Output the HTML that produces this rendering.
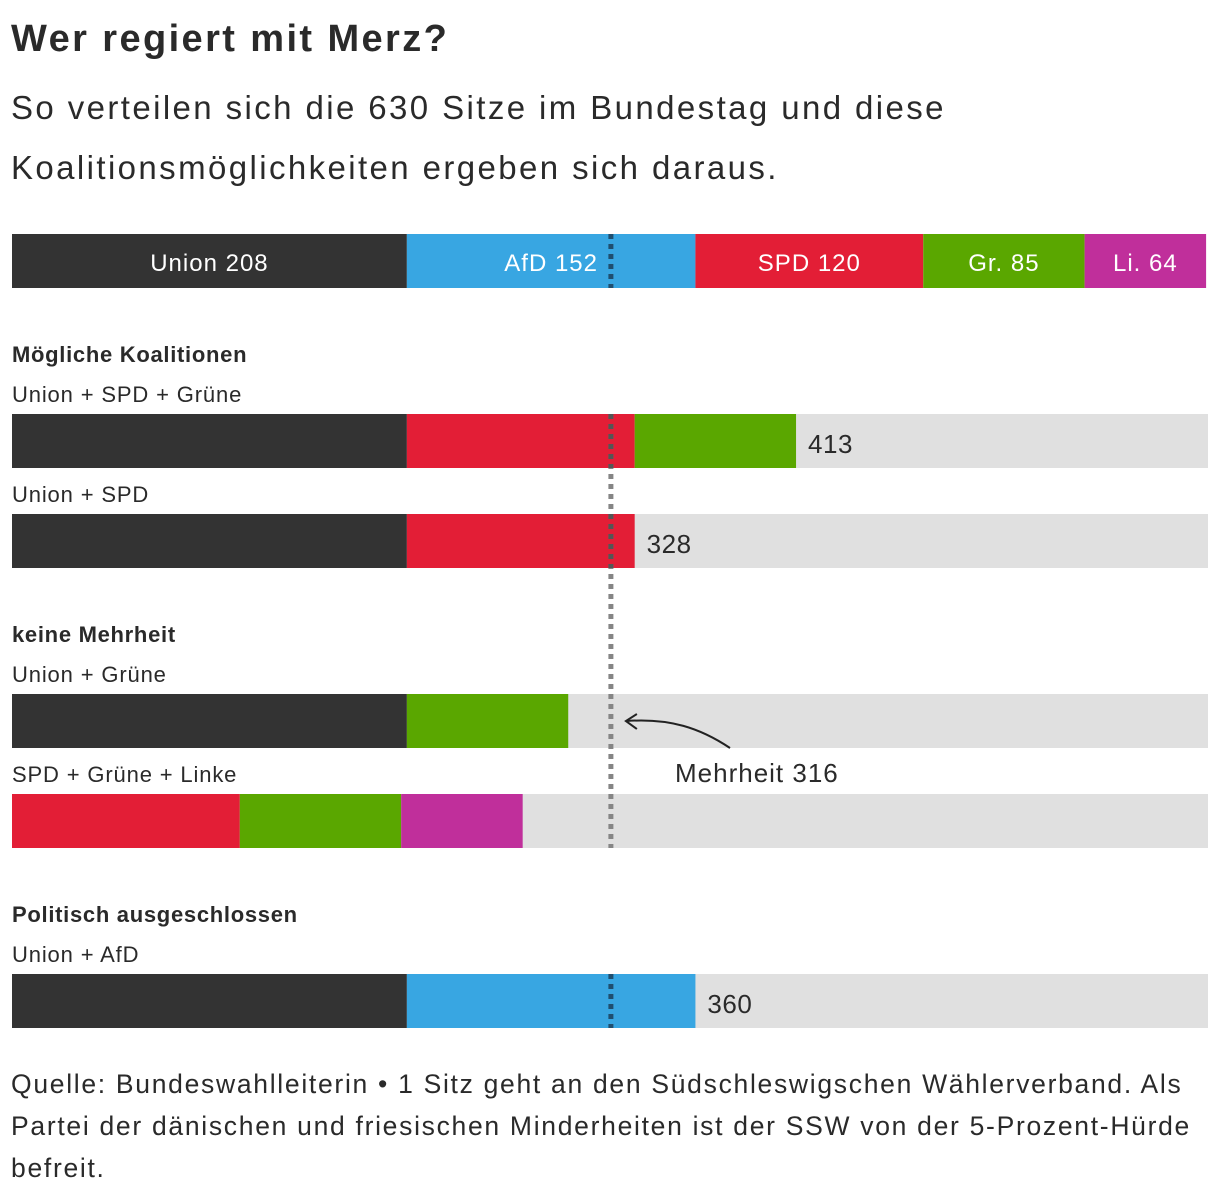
<!DOCTYPE html>
<html><head><meta charset="utf-8">
<style>
body{margin:0;background:#fff;font-family:"Liberation Sans",sans-serif;color:#222;}
#wrap{position:relative;width:1220px;height:1198px;overflow:hidden;}
h1{position:absolute;left:11px;top:18px;margin:0;font-size:38px;font-weight:bold;color:#2a2a2a;letter-spacing:2.4px;}
.sub{position:absolute;left:11px;top:78px;margin:0;font-size:33px;line-height:60px;color:#2a2a2a;letter-spacing:2.4px;white-space:nowrap;}
.foot{position:absolute;left:11px;top:1063px;margin:0;font-size:26.5px;line-height:42px;color:#2a2a2a;letter-spacing:1.7px;white-space:nowrap;}
</style></head><body>
<div id="wrap">
<h1>Wer regiert mit Merz?</h1>
<p class="sub">So verteilen sich die 630 Sitze im Bundestag und diese<br>Koalitionsmöglichkeiten ergeben sich daraus.</p>
<svg id="chart" width="1220" height="1198" style="position:absolute;left:0;top:0"></svg>
<p class="foot">Quelle: Bundeswahlleiterin • 1 Sitz geht an den Südschleswigschen Wählerverband. Als<br>Partei der dänischen und friesischen Minderheiten ist der SSW von der 5-Prozent-Hürde<br>befreit.</p>
</div>
<script>
const parties=["Union","AfD","SPD","Grüne","Linke"];
const partyLabels=["Union 208","AfD 152","SPD 120","Gr. 85","Li. 64"];
const seats=[208,152,120,85,64];
const colors=["#333333","#38a6e2","#e31e36","#5aa700","#c02f9b"];
const totalSeats=630;
const majority=316;
const coalitionNames=["Union + SPD + Grüne","Union + SPD","Union + Grüne","SPD + Grüne + Linke","Union + AfD"];
const coalitionMembers=[[0,2,3],[0,2],[0,3],[2,3,4],[0,1]];
const coalitionShowTotal=[true,true,false,false,true];
const coalitionTop=[414,514,694,794,974];
const sectionTitles=["Mögliche Koalitionen","keine Mehrheit","Politisch ausgeschlossen"];
const sectionTop=[354,634,914];

const svg=document.getElementById('chart');
const NS="http://www.w3.org/2000/svg";
const x0=12,x1=1208,BH=54;
const x=v=>x0+v*(x1-x0)/totalSeats;
function mk(tag,attrs,txt){const e=document.createElementNS(NS,tag);for(const k in attrs)e.setAttribute(k,attrs[k]);if(txt!=null)e.textContent=txt;svg.appendChild(e);return e;}

let acc=0;
seats.forEach((s,i)=>{
  const r=mk('rect',{x:x(acc),y:234,width:x(acc+s)-x(acc),height:BH,fill:colors[i]});
  
  
  const t=mk('text',{x:(x(acc)+x(acc+s))/2,y:271,'text-anchor':'middle','font-size':24,fill:'#fff','letter-spacing':1},partyLabels[i]);
  
  
  acc+=s;
});
const mx=x(majority)-1;
function dash(y1,y2,c){const l=mk('line',{x1:mx,x2:mx,y1:y1,y2:y2,stroke:c,'stroke-width':5,'stroke-dasharray':'5 5'});
  
  }
dash(234,288,'#1f4f70');

sectionTitles.forEach((s,i)=>{
  const t=mk('text',{x:12,y:sectionTop[i]+8,'font-size':22,'font-weight':'bold',fill:'#2a2a2a','letter-spacing':0.7},s);
  
  
});

coalitionNames.forEach((n,ci)=>{
  const y=coalitionTop[ci];
  const lab=mk('text',{x:12,y:y-12,'font-size':22,fill:'#2a2a2a','letter-spacing':0.85},n);
  
  
  const bg=mk('rect',{x:x0,y:y,width:x1-x0,height:BH,fill:'#e0e0e0'});
  
  
  let a=0;
  coalitionMembers[ci].forEach(pi=>{
    const r=mk('rect',{x:x(a),y:y,width:x(a+seats[pi])-x(a),height:BH,fill:colors[pi]});
    
    
    a+=seats[pi];
  });
  if(coalitionShowTotal[ci]){
    const t=mk('text',{x:x(a)+12,y:y+39,'font-size':26,fill:'#2a2a2a','letter-spacing':0.5},String(a));
    
    
  }
});
dash(414,848,'#858585');
[414,514].forEach(y=>dash(y,y+BH,'#555'));
dash(974,1028,'#1f4f70');

const arr=mk('path',{d:`M730 748 C 700 728, 670 718, ${mx+16} 721`,fill:'none',stroke:'#222','stroke-width':2});


const ah=mk('path',{d:`M${mx+26} 714 L${mx+15} 721 L${mx+26} 729`,fill:'none',stroke:'#222','stroke-width':2});


const ml=mk('text',{x:675,y:782,'font-size':26,fill:'#2a2a2a','letter-spacing':1},'Mehrheit '+majority);


</script>
</body></html>
